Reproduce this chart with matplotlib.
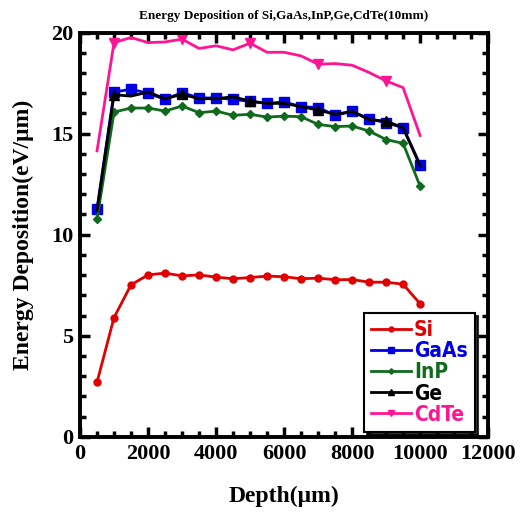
import numpy as np
import matplotlib
matplotlib.use('Agg')
import matplotlib.pyplot as plt
from matplotlib.ticker import MultipleLocator
from matplotlib import font_manager

# Profundidad (um) y energia depositada (eV/um) para cada material
depth = [500, 1000, 1500, 2000, 2500, 3000, 3500, 4000, 4500, 5000,
         5500, 6000, 6500, 7000, 7500, 8000, 8500, 9000, 9500, 10000]

si = [2.7, 5.9, 7.52, 8.01, 8.1, 7.96, 8.01, 7.9, 7.82, 7.88,
      7.95, 7.92, 7.82, 7.85, 7.77, 7.78, 7.65, 7.65, 7.55, 6.58]
gaas = [11.28, 17.06, 17.2, 17.0, 16.7, 17.03, 16.77, 16.77, 16.7, 16.6,
        16.5, 16.57, 16.34, 16.29, 15.91, 16.1, 15.74, 15.54, 15.3, 13.47]
inp = [10.78, 16.07, 16.27, 16.27, 16.12, 16.37, 16.04, 16.12, 15.91, 15.96,
       15.82, 15.87, 15.84, 15.46, 15.35, 15.38, 15.13, 14.71, 14.52, 12.4]
ge = [11.2, 16.93, 16.86, 17.06, 16.73, 16.95, 16.73, 16.73, 16.83, 16.61,
      16.5, 16.5, 16.34, 16.17, 15.96, 16.1, 15.7, 15.62, 15.3, 13.4]
cdte = [14.15, 19.51, 19.76, 19.51, 19.54, 19.68, 19.22, 19.35, 19.15, 19.48,
        19.03, 19.03, 18.85, 18.44, 18.47, 18.39, 18.03, 17.61, 17.28, 14.91]

series = [
    ('Si', si, '#e00000', 'o', 5, None),
    ('GaAs', gaas, '#0000e0', 's', 6.5, None),
    ('InP', inp, '#0f6a1e', 'D', 4, None),
    ('Ge', ge, '#000000', '^', 7, (1, 4)),
    ('CdTe', cdte, '#ff1493', 'v', 7, (1, 4)),
]

serif = 'Liberation Serif'
# fuente estrecha para la leyenda si existe
nombres = {f.name for f in font_manager.fontManager.ttflist}
if 'Liberation Sans Narrow' in nombres:
    narrow = {'family': 'Liberation Sans Narrow', 'weight': 'bold', 'size': 16}
else:
    narrow = {'family': 'DejaVu Sans', 'stretch': 'condensed', 'weight': 'bold', 'size': 15}

fig = plt.figure(figsize=(5.30, 5.13), dpi=100)
ax = fig.add_axes([0.151, 0.1487, 0.770, 0.7876])

for name, vals, col, mk, ms, every in series:
    ax.plot(depth, vals, color=col, marker=mk, markersize=ms, lw=2.0,
            markevery=every, label=name)

ax.set_xlim(0, 12000)
ax.set_ylim(0, 20)
ax.xaxis.set_major_locator(MultipleLocator(2000))
ax.xaxis.set_minor_locator(MultipleLocator(500))
ax.yaxis.set_major_locator(MultipleLocator(5))
ax.yaxis.set_minor_locator(MultipleLocator(1))
ax.tick_params(which='both', direction='in', top=True, right=True, width=2.5)
ax.tick_params(which='major', length=7)
ax.tick_params(which='minor', length=4)
ax.tick_params(axis='both', which='major', pad=5)
for s in ax.spines.values():
    s.set_linewidth(2.8)

for lab in ax.get_xticklabels() + ax.get_yticklabels():
    lab.set_fontfamily(serif)
    lab.set_fontweight('bold')
    lab.set_fontsize(16)

ax.set_xlabel('Depth(\u03bcm)', fontfamily=serif, fontweight='bold', fontsize=17, labelpad=16)
ax.set_ylabel('Energy Deposition(eV/\u03bcm)', fontfamily=serif, fontweight='bold', fontsize=17, labelpad=12)
ax.set_title('Energy Deposition of Si,GaAs,InP,Ge,CdTe(10mm)', fontfamily=serif,
             fontweight='bold', fontsize=9.5, pad=10)

leg = ax.legend(loc='lower right', bbox_to_anchor=(0.968, 0.012), fancybox=False,
                shadow={'color': 'black', 'alpha': 0.8, 'ox': 2, 'oy': -2},
                prop=narrow, handlelength=1.9, handletextpad=0.15, labelspacing=0.05,
                borderpad=0.35, borderaxespad=0, markerscale=0.7)
leg.get_frame().set_edgecolor('black')
leg.get_frame().set_linewidth(1.5)
for txt, (name, vals, col, mk, ms, every) in zip(leg.get_texts(), series):
    txt.set_color(col)

fig.savefig('out.png', dpi=100)
